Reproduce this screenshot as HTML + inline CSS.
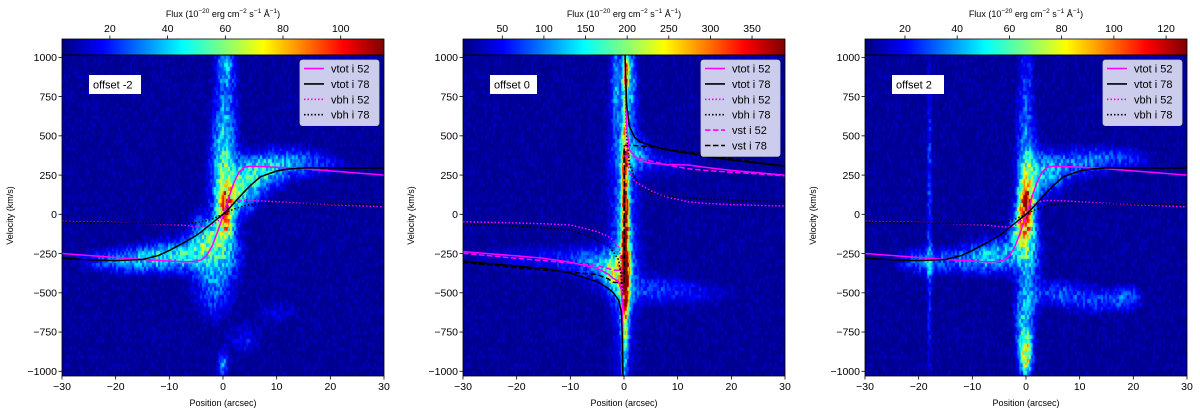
<!DOCTYPE html>
<html><head><meta charset="utf-8">
<style>
body{margin:0;background:#fff;width:1200px;height:415px;overflow:hidden;font-family:"Liberation Sans","DejaVu Sans",sans-serif;}
svg text{font-family:"Liberation Sans","DejaVu Sans",sans-serif;}
canvas{position:absolute;}
#wrap{position:relative;width:1200px;height:415px;}
</style></head>
<body>
<div id="wrap">
<canvas id="c0" width="322" height="321" style="left:62px;top:55px"></canvas>
<canvas id="c1" width="322" height="321" style="left:463px;top:55px"></canvas>
<canvas id="c2" width="322" height="321" style="left:865px;top:55px"></canvas>
<canvas id="b0" width="322" height="16" style="left:62px;top:39px"></canvas>
<canvas id="b1" width="322" height="16" style="left:463px;top:39px"></canvas>
<canvas id="b2" width="322" height="16" style="left:865px;top:39px"></canvas>
<svg id="svg" width="1200" height="415" style="position:absolute;left:0;top:0"></svg>
</div>
<script>
// ---------- DATA ----------
const panelLefts = [62, 463, 865];
const offsetLabels = ["offset -2", "offset 0", "offset 2"];
const xTicks = [-30, -20, -10, 0, 10, 20, 30];
const yTicks = [1000, 750, 500, 250, 0, -250, -500, -750, -1000];
const cbarRanges = [[3.4, 115], [2.8, 389.6], [4.7, 128]];
const cbarTicks0 = [20, 40, 60, 80, 100];
const cbarTicks1 = [50, 100, 150, 200, 250, 300, 350];
const cbarTicks2 = [20, 40, 60, 80, 100, 120];

// emission components per panel: position (arcsec), velocity (km/s), widths, amplitude (flux)
const blobPos0 = [0.5, 0, 0.5, -3, 3, -8, -15, -22, 7, 12, 18, 0, 4, 10, -2, 1, 0.5];
const blobVel0 = [700, 300, 0, -150, 150, -260, -290, -300, 270, 330, 320, -950, -800, -620, -450, -250, 950];
const blobSp0  = [1.5, 1.6, 1.0, 2.2, 2.7, 4, 4, 4, 3, 4, 4, 0.7, 2, 3, 2.5, 2, 1.2];
const blobSv0  = [300, 200, 100, 100, 100, 70, 60, 50, 80, 70, 60, 60, 70, 60, 150, 120, 80];
const blobAmp0 = [24, 34, 72, 40, 40, 34, 27, 16, 32, 22, 12, 28, 14, 10, 24, 22, 16];

const blobPos1 = [0.2, 0.3, 0.1, 0, -3, -8, -18, -1.5, 5, 13, 2, 8, -1.5, 1.5, 0.3];
const blobVel1 = [100, 900, -700, 0, -330, -300, -280, -400, -480, -500, 380, 330, 850, 850, -350];
const blobSp1  = [0.45, 0.4, 0.45, 1.7, 3, 4, 6, 1.5, 4, 4, 2, 4, 0.6, 0.6, 0.6];
const blobSv1  = [400, 80, 250, 600, 80, 60, 50, 80, 60, 50, 70, 60, 200, 200, 200];
const blobAmp1 = [300, 260, 130, 85, 80, 48, 30, 110, 55, 32, 80, 30, 80, 80, 180];

const blobPos2 = [-18, 0, 0.5, 0, -0.5, 0, -1, -5, -12, 4, 10, 18, 6, 13, 19, 0.5, -20];
const blobVel2 = [0, 600, -300, -900, -700, 50, -100, -250, -300, 250, 330, 360, -500, -550, -530, 250, -300];
const blobSp2  = [0.4, 1.2, 1.5, 0.8, 1.2, 0.9, 1.5, 4, 5, 2.5, 4, 4, 3, 4, 2, 1.5, 3];
const blobSv2  = [800, 400, 300, 90, 150, 110, 100, 80, 60, 90, 70, 50, 60, 60, 60, 150, 60];
const blobAmp2 = [22, 25, 28, 70, 30, 80, 40, 32, 24, 34, 26, 20, 22, 22, 20, 28, 20];

// model curves, panels 1 & 3
const curvePos = [-30,-25,-20,-15,-12,-10,-7,-5,-4,-3,-2,-1,0,1,2,3,4,5,7,10,12,15,20,25,30];
const vtot52 = [-250,-262,-275,-288,-294,-297,-303,-300,-290,-260,-200,-110,-10,100,200,270,300,306,305,300,296,290,277,263,250];
const vtot78 = [-280,-290,-295,-288,-262,-230,-175,-135,-110,-82,-55,-27,0,33,70,108,145,180,240,276,288,295,296,295,294];
const vbh52  = [-45,-48,-52,-58,-62,-65,-70,-78,-80,-80,-70,-45,0,50,75,85,88,88,86,80,76,70,62,55,48];
const vbh78  = [-50,-52,-55,-58,-59,-60,-58,-52,-47,-40,-30,-15,0,18,33,45,55,62,68,70,70,68,65,62,60];

// model curves, panel 2 (left branch and right branch)
const lPos = [-30,-20,-15,-10,-5,-3,-2,-1,-0.5,-0.3,-0.2];
const vtot52L = [-238,-265,-280,-305,-344,-380,-408,-429,-480,-600,-1030];
const vtot78L = [-298,-330,-344,-375,-429,-470,-500,-546,-620,-800,-1030];
const vbh52L  = [-47,-55,-60,-68,-110,-140,-165,-206,-300,-500,-1030];
const vbh78L  = [-60,-75,-85,-100,-160,-200,-240,-290,-400,-600,-1030];
const vst52L  = [-248,-280,-295,-310,-327,-345,-355,-356,-357,-358,-358];
const vst78L  = [-306,-340,-355,-368,-384,-410,-433,-435,-435,-435,-435];
const rPos = [0.2,0.3,0.5,1,2,3,5,8,12,15,20,25,30];
const vtot52R = [1015,800,560,410,370,341,325,318,314,300,280,265,250];
const vtot78R = [1015,900,700,560,490,462,440,410,388,370,345,325,307];
const vbh52R  = [1015,700,420,260,210,190,150,110,80,70,62,57,53];
const vbh78R  = [1015,800,520,325,230,176,140,115,104,98,90,84,80];
const vst52R  = [365,366,368,375,365,355,340,315,290,280,268,258,245];
const vst78R  = [440,440,440,440,438,435,430,415,398,385,355,330,310];

// ---------- AXES ----------
const PW = 322, PH = 321, PT = 55;
const XMIN = -30, XMAX = 30, VTOP = 1015, VBOT = -1030;
function xs(p, i){ return panelLefts[i] + (p - XMIN) / (XMAX - XMIN) * PW; }
function ys(v){ return PT + (VTOP - v) / (VTOP - VBOT) * PH; }

function jet(t){
  t = Math.max(0, Math.min(1, t));
  const c = x => Math.max(0, Math.min(1, x));
  return [c(1.5 - Math.abs(4*t-3))*255, c(1.5 - Math.abs(4*t-2))*255, c(1.5 - Math.abs(4*t-1))*255];
}
function tex(a, b){ // deterministic streak texture
  const s = Math.sin(a*12.9898 + b*78.233) * 43758.5453;
  return s - Math.floor(s);
}
const blobs = [
  [blobPos0, blobVel0, blobSp0, blobSv0, blobAmp0],
  [blobPos1, blobVel1, blobSp1, blobSv1, blobAmp1],
  [blobPos2, blobVel2, blobSp2, blobSv2, blobAmp2]];

for (let k = 0; k < 3; k++){
  const cv = document.getElementById('c'+k), ctx = cv.getContext('2d');
  const img = ctx.createImageData(PW, PH);
  const [bp, bv, bsp, bsv, ba] = blobs[k];
  const [lo, hi] = cbarRanges[k];
  for (let py = 0; py < PH; py++){
    const v = VTOP - (py + 0.5) / PH * (VTOP - VBOT);
    for (let px = 0; px < PW; px++){
      const p = XMIN + (px + 0.5) / PW * (XMAX - XMIN);
      let f = 0;
      for (let j = 0; j < bp.length; j++){
        const dp = (p - bp[j]) / bsp[j], dv = (v - bv[j]) / bsv[j];
        const e = dp*dp + dv*dv;
        if (e < 20) f += ba[j] * Math.exp(-0.5 * e);
      }
      const col = Math.floor(px / 2), row = Math.floor(py / 4);
      const n = tex(col, row + 0.37*(col%3));
      f = f * (0.7 + 0.6 * n);
      let t = (f - lo) / (hi - lo);
      t = 0.015 + 0.05 * n * n * n + Math.max(0, t);
      const c = jet(t);
      const o = (py * PW + px) * 4;
      img.data[o] = c[0]; img.data[o+1] = c[1]; img.data[o+2] = c[2]; img.data[o+3] = 255;
    }
  }
  ctx.putImageData(img, 0, 0);
  const bc = document.getElementById('b'+k).getContext('2d');
  for (let x = 0; x < PW; x++){
    const c = jet((x + 0.5) / PW);
    bc.fillStyle = `rgb(${c[0]|0},${c[1]|0},${c[2]|0})`;
    bc.fillRect(x, 0, 1, 16);
  }
}

// ---------- SVG OVERLAY ----------
const svg = document.getElementById('svg');
const NS = 'http://www.w3.org/2000/svg';
function mk(tag, attrs, parent){
  const e = document.createElementNS(NS, tag);
  for (const a in attrs) e.setAttribute(a, attrs[a]);
  (parent || svg).appendChild(e);
  return e;
}
function fmt(n){ return n < 0 ? '\u2212' + Math.abs(n) : String(n); }

const styles = {
  vtot52: {stroke:'#ff00ff', dash:'', w:1.5},
  vtot78: {stroke:'#000', dash:'', w:1.5},
  vbh52: {stroke:'#ff00ff', dash:'1.5,2', w:1.5},
  vbh78: {stroke:'#000', dash:'1.5,2', w:1.5},
  vst52: {stroke:'#ff00ff', dash:'5.5,2.5', w:1.5},
  vst78: {stroke:'#000', dash:'5.5,2.5', w:1.5}};

function drawCurve(i, pos, vals, st, name){
  let d = '';
  for (let j = 0; j < pos.length; j++){
    d += (j ? 'L' : 'M') + xs(pos[j], i).toFixed(2) + ',' + ys(vals[j]).toFixed(2);
  }
  const pth = mk('path', {d:d, fill:'none', stroke:st.stroke, 'stroke-width':st.w, 'stroke-dasharray':st.dash, 'stroke-linejoin':'round', 'clip-path':'url(#clip'+i+')'});
  
  
}

const defs = mk('defs', {});
for (let i = 0; i < 3; i++){
  const cp = mk('clipPath', {id:'clip'+i}, defs);
  mk('rect', {x:panelLefts[i], y:PT, width:PW, height:PH}, cp);
}

for (let i = 0; i < 3; i++){
  const L = panelLefts[i];
  if (i !== 1){
    drawCurve(i, curvePos, vbh52, styles.vbh52, 'vbh-i52-line');
    drawCurve(i, curvePos, vbh78, styles.vbh78, 'vbh-i78-line');
    drawCurve(i, curvePos, vtot52, styles.vtot52, 'vtot-i52-line');
    drawCurve(i, curvePos, vtot78, styles.vtot78, 'vtot-i78-line');
  } else {
    drawCurve(i, lPos, vbh52L, styles.vbh52, 'vbh-i52-left');
    drawCurve(i, lPos, vbh78L, styles.vbh78, 'vbh-i78-left');
    drawCurve(i, rPos, vbh52R, styles.vbh52, 'vbh-i52-right');
    drawCurve(i, rPos, vbh78R, styles.vbh78, 'vbh-i78-right');
    drawCurve(i, lPos, vst52L, styles.vst52, 'vst-i52-left');
    drawCurve(i, lPos, vst78L, styles.vst78, 'vst-i78-left');
    drawCurve(i, rPos, vst52R, styles.vst52, 'vst-i52-right');
    drawCurve(i, rPos, vst78R, styles.vst78, 'vst-i78-right');
    drawCurve(i, [0.05,0.05], [-435, 440], styles.vst78, 'vst-i78-center');
    drawCurve(i, lPos, vtot52L, styles.vtot52, 'vtot-i52-left');
    drawCurve(i, lPos, vtot78L, styles.vtot78, 'vtot-i78-left');
    drawCurve(i, rPos, vtot52R, styles.vtot52, 'vtot-i52-right');
    drawCurve(i, rPos, vtot78R, styles.vtot78, 'vtot-i78-right');
  }
  const fr = mk('rect', {x:L, y:PT, width:PW, height:PH, fill:'none', stroke:'#000', 'stroke-width':0.8});
  
  
  const cf = mk('rect', {x:L, y:39, width:PW, height:16, fill:'none', stroke:'#000', 'stroke-width':0.8});
  
  
  for (const t of xTicks){
    const x = xs(t, i);
    mk('line', {x1:x, x2:x, y1:PT+PH, y2:PT+PH+3.5, stroke:'#000', 'stroke-width':0.8});
    const tx = mk('text', {x:x, y:390, 'font-size':10.5, 'text-anchor':'middle', fill:'#000'});
    tx.textContent = fmt(t);
    
    
  }
  for (const t of yTicks){
    const y = ys(t);
    mk('line', {x1:L-3.5, x2:L, y1:y, y2:y, stroke:'#000', 'stroke-width':0.8});
    const ty = mk('text', {x:L-5, y:y+3.7, 'font-size':10.5, 'text-anchor':'end', fill:'#000'});
    ty.textContent = fmt(t);
    
    
  }
  const xl = mk('text', {x:L+PW/2, y:406, 'font-size':9, 'text-anchor':'middle', fill:'#000'});
  xl.textContent = 'Position (arcsec)';
  
  
  const yl = mk('text', {x:0, y:0, 'font-size':9, 'text-anchor':'middle', fill:'#000', transform:`translate(${L-49},${PT+PH/2}) rotate(-90)`});
  yl.textContent = 'Velocity (km/s)';
  
  
  const [lo, hi] = cbarRanges[i];
  const cts = [cbarTicks0, cbarTicks1, cbarTicks2][i];
  for (const t of cts){
    const x = L + (t - lo) / (hi - lo) * PW;
    mk('line', {x1:x, x2:x, y1:39, y2:35.5, stroke:'#000', 'stroke-width':0.8});
    const ct = mk('text', {x:x, y:32, 'font-size':10.5, 'text-anchor':'middle', fill:'#000'});
    ct.textContent = t;
    
    
  }
  const ctl = mk('text', {x:L+PW/2, y:17, 'font-size':9, 'text-anchor':'middle', fill:'#000'});
  ctl.innerHTML = 'Flux (10<tspan dy="-4" font-size="6.5">\u221220</tspan><tspan dy="4"> erg cm</tspan><tspan dy="-4" font-size="6.5">\u22122</tspan><tspan dy="4"> s</tspan><tspan dy="-4" font-size="6.5">\u22121</tspan><tspan dy="4"> \u00c5</tspan><tspan dy="-4" font-size="6.5">\u22121</tspan><tspan dy="4">)</tspan>';
  
  
  const ob = mk('rect', {x:L+27, y:75, width:i===1?47:52, height:19, fill:'#fff'});
  
  
  const ot = mk('text', {x:L+31, y:88.5, 'font-size':11, fill:'#000'});
  ot.textContent = offsetLabels[i];
  
  
  const entries = i === 1 ? ['vtot52','vtot78','vbh52','vbh78','vst52','vst78'] : ['vtot52','vtot78','vbh52','vbh78'];
  const lx = L + 238;
  const lg = mk('g', {});
  
  
  mk('rect', {x:lx, y:60, width:79, height:entries.length*15.4+4, rx:2.5, fill:'#dcdcf2', 'fill-opacity':0.93, stroke:'#c8c8c8', 'stroke-width':0.8}, lg);
  entries.forEach((k, j) => {
    const y = 68.5 + j*15.4;
    const st = styles[k];
    const e = mk('g', {}, lg);
    
    
    mk('line', {x1:lx+4, x2:lx+24, y1:y, y2:y, stroke:st.stroke, 'stroke-width':1.6, 'stroke-dasharray':st.dash}, e);
    const t = mk('text', {x:lx+31, y:y+4, 'font-size':11, fill:'#000'}, e);
    t.textContent = k.replace(/(\D+)(\d+)/, '$1 i $2');
  });
}
</script>
</body></html>
